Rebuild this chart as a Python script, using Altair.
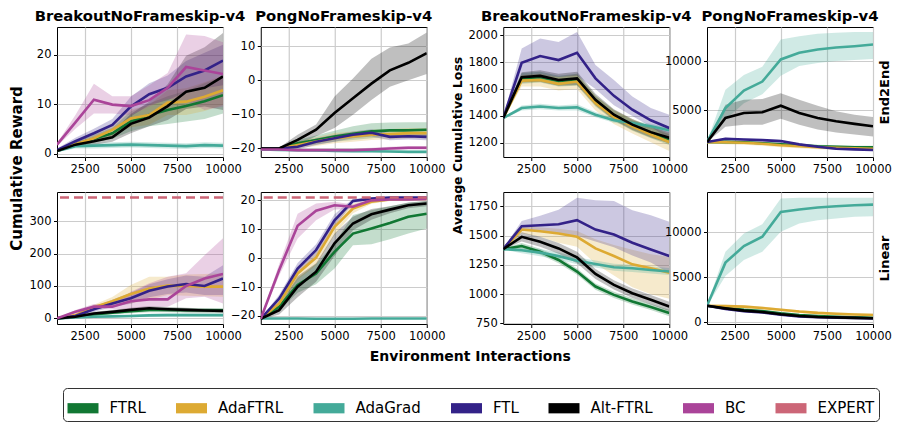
import altair as alt
import pandas as pd

X = [1000, 2000, 3000, 4000, 5000, 6000, 7000, 8000, 9000, 10000]
METHODS = ["FTRL", "AdaFTRL", "AdaGrad", "FTL", "Alt-FTRL", "BC", "EXPERT"]
COLORS = ["#117733", "#DDAA33", "#44AA99", "#332288", "#000000", "#AA4499", "#CC6677"]
GAMES = ["BreakoutNoFrameskip-v4", "PongNoFrameskip-v4"]
ROW_LABELS = ["End2End", "Linear"]
X_TICKS = [2500, 5000, 7500, 10000]
EXPERT_BREAKOUT = 373
EXPERT_PONG = 21

# ---- Breakout, cumulative reward, End2End
BR_E2E_MEAN = {
    "FTRL": [0.5, 1.8, 3.0, 4.1, 6.5, 7.8, 8.8, 9.6, 10.6, 11.8],
    "AdaFTRL": [0.5, 1.9, 3.1, 4.8, 7.1, 7.8, 10.3, 10.5, 11.5, 12.8],
    "AdaGrad": [0.5, 1.5, 1.6, 1.7, 1.8, 1.7, 1.6, 1.5, 1.7, 1.6],
    "FTL": [0.7, 2.5, 4.1, 5.8, 9.5, 12.0, 13.3, 15.6, 16.8, 18.8],
    "Alt-FTRL": [0.5, 1.8, 2.5, 3.3, 6.0, 7.3, 9.6, 12.5, 13.3, 15.6],
    "BC": [1.8, 6.3, 10.9, 9.9, 9.6, 10.8, 13.3, 17.5, 16.8, 16.1],
}
BR_E2E_LO = {
    "FTRL": [0.3, 1.3, 2.2, 3.0, 4.5, 5.5, 6.0, 6.5, 7.0, 8.1],
    "AdaFTRL": [0.3, 1.4, 2.3, 3.6, 5.3, 5.8, 7.8, 7.8, 8.6, 9.8],
    "AdaGrad": [0.3, 1.0, 1.0, 1.1, 1.2, 1.1, 1.0, 0.9, 1.1, 1.0],
    "FTL": [0.4, 1.8, 3.2, 4.6, 7.5, 9.8, 10.8, 12.5, 13.2, 13.8],
    "Alt-FTRL": [0.3, 1.3, 1.8, 2.4, 4.1, 5.5, 6.8, 9.0, 9.5, 8.8],
    "BC": [1.5, 5.0, 8.1, 8.1, 7.8, 9.5, 11.1, 10.8, 8.8, 9.5],
}
BR_E2E_HI = {
    "FTRL": [0.7, 2.3, 3.8, 5.2, 8.5, 10.1, 11.6, 12.7, 14.2, 15.5],
    "AdaFTRL": [0.7, 2.4, 3.9, 6.0, 8.9, 9.8, 12.8, 13.2, 14.4, 15.8],
    "AdaGrad": [0.7, 2.0, 2.2, 2.3, 2.4, 2.3, 2.2, 2.1, 2.3, 2.2],
    "FTL": [1.0, 3.2, 5.0, 7.0, 11.5, 14.2, 15.8, 18.7, 20.4, 22.0],
    "Alt-FTRL": [0.7, 2.3, 3.2, 4.3, 8.0, 10.5, 14.0, 19.8, 21.5, 24.4],
    "BC": [2.1, 7.8, 14.1, 11.6, 11.6, 13.8, 16.3, 24.1, 23.8, 22.5],
}

# ---- Pong, cumulative reward, End2End
PG_E2E_MEAN = {
    "FTRL": [-20, -20, -18.5, -17.5, -16.5, -15.7, -15.0, -14.7, -14.7, -14.5],
    "AdaFTRL": [-20, -20, -19, -18, -17, -16.5, -16, -15.8, -15.5, -15.5],
    "AdaGrad": [-20.3, -20.4, -20.5, -20.6, -20.7, -20.8, -20.8, -20.9, -21.0, -21.0],
    "FTL": [-20, -20, -19.5, -18, -17, -16, -15.4, -16.6, -16.4, -16.6],
    "Alt-FTRL": [-20, -20, -17.5, -14.5, -9.6, -5.3, -1.0, 2.9, 5.1, 7.9],
    "BC": [-20.3, -20.3, -20.5, -20.5, -20.5, -20.5, -20.3, -20.0, -19.8, -19.8],
}
PG_E2E_LO = {
    "FTRL": [-20.2, -20.3, -19.5, -18.8, -18.0, -17.5, -17.0, -16.5, -16.5, -16.5],
    "AdaFTRL": [-20.2, -20.4, -20.0, -19.3, -18.5, -18.0, -17.5, -17.3, -17.0, -17.0],
    "AdaGrad": [-20.6, -20.7, -20.8, -20.9, -21.0, -21.1, -21.1, -21.2, -21.3, -21.3],
    "FTL": [-20.2, -20.3, -20.3, -19.0, -18.0, -17.0, -16.5, -17.6, -17.4, -17.6],
    "Alt-FTRL": [-20.2, -20.3, -19.0, -16.4, -14.0, -10.1, -5.8, -1.9, 0.0, 1.8],
    "BC": [-20.6, -20.7, -20.9, -21.0, -21.0, -21.0, -20.8, -20.5, -20.3, -20.3],
}
PG_E2E_HI = {
    "FTRL": [-19.8, -19.7, -17.5, -16.2, -14.8, -13.5, -12.6, -12.4, -12.3, -12.3],
    "AdaFTRL": [-19.8, -19.6, -18.0, -16.7, -15.5, -15.0, -14.5, -14.3, -14.0, -14.0],
    "AdaGrad": [-20.0, -20.1, -20.2, -20.3, -20.4, -20.5, -20.5, -20.6, -20.7, -20.7],
    "FTL": [-19.8, -19.7, -18.7, -17.0, -16.0, -15.0, -14.4, -15.6, -15.4, -15.6],
    "Alt-FTRL": [-19.8, -19.7, -16.0, -13.0, -4.8, 0.5, 6.3, 9.6, 10.8, 14.0],
    "BC": [-20.0, -19.9, -20.1, -20.0, -20.0, -20.0, -19.8, -19.5, -19.3, -19.3],
}

# ---- Breakout, cumulative reward, Linear
BR_LIN_MEAN = {
    "FTRL": [0, 5, 12, 17, 22, 26, 26, 25, 25, 25],
    "AdaFTRL": [0, 10, 34, 53, 75, 92, 101, 100, 98, 98],
    "AdaGrad": [0, 3, 5, 6, 7, 9, 10, 10, 10, 10],
    "FTL": [0, 7, 28, 46, 62, 85, 98, 106, 100, 123],
    "Alt-FTRL": [0, 5, 15, 20, 26, 31, 28, 26, 24, 23],
    "BC": [0, 20.5, 36, 36, 53, 58.6, 58.6, 100, 123, 137],
}
BR_LIN_LO = {
    "FTRL": [0, 3, 8, 12, 16, 19, 19, 18, 18, 18],
    "AdaFTRL": [0, 6, 26, 40, 46, 57, 72, 70, 68, 67],
    "AdaGrad": [0, 1, 2, 3, 3, 4, 5, 5, 5, 5],
    "FTL": [0, 4, 20, 35, 45, 65, 75, 80, 72, 72],
    "Alt-FTRL": [0, 3, 10, 14, 19, 24, 21, 19, 18, 17],
    "BC": [0, 15, 28, 28, 26, 36, 36, 62, 67, 46],
}
BR_LIN_HI = {
    "FTRL": [0, 7, 16, 22, 28, 33, 33, 32, 32, 32],
    "AdaFTRL": [0, 14, 42, 66, 103, 128, 128, 135, 137, 139],
    "AdaGrad": [0, 5, 8, 9, 11, 14, 15, 15, 15, 15],
    "FTL": [0, 10, 36, 57, 79, 105, 121, 132, 128, 164],
    "Alt-FTRL": [0, 7, 20, 26, 33, 38, 35, 33, 30, 29],
    "BC": [0, 26, 44, 44, 82, 108, 128, 139, 195, 247],
}

# ---- Pong, cumulative reward, Linear
PG_LIN_MEAN = {
    "FTRL": [-21, -16.8, -9.3, -5.3, 2.2, 8.5, 10.3, 12.2, 14.3, 15.4],
    "AdaFTRL": [-21, -15.7, -5.3, 0.2, 10.8, 17.2, 19.5, 20.3, 20.5, 20.5],
    "AdaGrad": [-20.9, -20.9, -20.9, -21.0, -21.0, -21.0, -20.9, -20.9, -20.9, -20.9],
    "FTL": [-21, -14, -3.6, 2.8, 13.1, 19.8, 20.6, 21, 21, 21],
    "Alt-FTRL": [-21, -18, -9.9, -4.7, 5.1, 12, 15.2, 16.8, 18.3, 18.9],
    "BC": [-21, -4.1, 11.2, 16.4, 18.3, 17.8, 20, 20.3, 20.3, 20.5],
}
PG_LIN_LO = {
    "FTRL": [-21.2, -18, -12, -9, -3.6, 4.5, 4.8, 6.5, 8.5, 10.3],
    "AdaFTRL": [-21.2, -17, -7.5, -2.5, 8, 15.5, 18.8, 19.8, 20.1, 20.1],
    "AdaGrad": [-21.1, -21.1, -21.1, -21.2, -21.2, -21.2, -21.1, -21.1, -21.1, -21.1],
    "FTL": [-21.2, -15.3, -5.5, 0.8, 11, 19, 20.3, 20.8, 20.8, 20.8],
    "Alt-FTRL": [-21.2, -19.5, -13.5, -8.2, 0.7, 9.7, 13.3, 15.5, 17.3, 18],
    "BC": [-21.2, -6, 6.8, 13.1, 16.8, 17, 19.5, 20, 20, 20.2],
}
PG_LIN_HI = {
    "FTRL": [-20.8, -15.5, -7, -2, 5.1, 14.9, 16.6, 18, 19.2, 19.8],
    "AdaFTRL": [-20.8, -14.4, -3, 2.9, 13.5, 18.9, 20.2, 20.8, 20.9, 20.9],
    "AdaGrad": [-20.7, -20.7, -20.7, -20.8, -20.8, -20.8, -20.7, -20.7, -20.7, -20.7],
    "FTL": [-20.8, -12.7, -1.7, 4.8, 15.2, 20.6, 20.9, 21.1, 21.1, 21.1],
    "Alt-FTRL": [-20.8, -16.5, -6.3, -1.8, 8.5, 14.3, 17, 18, 19.3, 19.8],
    "BC": [-20.8, -2, 15.4, 18.9, 19.5, 18.6, 20.5, 20.6, 20.6, 20.8],
}

# ---- Breakout, average cumulative loss, End2End
BL_E2E_MEAN = {
    "FTRL": [1385, 1680, 1690, 1660, 1670, 1510, 1405, 1330, 1275, 1225],
    "AdaFTRL": [1385, 1663, 1668, 1639, 1656, 1496, 1393, 1324, 1262, 1206],
    "AdaGrad": [1385, 1459, 1471, 1459, 1464, 1410, 1368, 1348, 1324, 1294],
    "FTL": [1385, 1796, 1846, 1816, 1870, 1680, 1550, 1447, 1368, 1311],
    "Alt-FTRL": [1385, 1688, 1698, 1668, 1680, 1521, 1410, 1336, 1280, 1238],
}
BL_E2E_LO = {
    "FTRL": [1375, 1640, 1650, 1620, 1625, 1470, 1365, 1290, 1235, 1185],
    "AdaFTRL": [1375, 1620, 1620, 1590, 1600, 1440, 1340, 1270, 1205, 1140],
    "AdaGrad": [1380, 1440, 1450, 1440, 1440, 1390, 1350, 1330, 1305, 1275],
    "FTL": [1380, 1690, 1700, 1690, 1700, 1600, 1480, 1400, 1320, 1230],
    "Alt-FTRL": [1375, 1650, 1655, 1625, 1630, 1480, 1370, 1295, 1240, 1195],
}
BL_E2E_HI = {
    "FTRL": [1395, 1720, 1730, 1700, 1715, 1550, 1445, 1370, 1315, 1265],
    "AdaFTRL": [1395, 1705, 1715, 1690, 1710, 1550, 1445, 1378, 1320, 1270],
    "AdaGrad": [1390, 1478, 1492, 1478, 1488, 1430, 1386, 1366, 1343, 1313],
    "FTL": [1390, 1902, 1976, 1951, 2025, 1779, 1668, 1545, 1459, 1410],
    "Alt-FTRL": [1395, 1725, 1740, 1715, 1730, 1565, 1450, 1378, 1320, 1280],
}

# ---- Breakout, average cumulative loss, Linear
BL_LIN_MEAN = {
    "FTRL": [1385, 1411, 1363, 1292, 1193, 1065, 994, 938, 890, 839],
    "AdaFTRL": [1385, 1552, 1538, 1518, 1490, 1391, 1326, 1255, 1221, 1184],
    "AdaGrad": [1385, 1375, 1355, 1325, 1286, 1258, 1230, 1221, 1207, 1193],
    "FTL": [1385, 1581, 1589, 1598, 1632, 1552, 1510, 1439, 1382, 1326],
    "Alt-FTRL": [1385, 1490, 1448, 1391, 1314, 1173, 1079, 1008, 952, 895],
}
BL_LIN_LO = {
    "FTRL": [1380, 1385, 1338, 1265, 1165, 1038, 968, 912, 864, 812],
    "AdaFTRL": [1380, 1520, 1490, 1440, 1405, 1260, 1160, 1060, 1000, 960],
    "AdaGrad": [1380, 1350, 1325, 1295, 1255, 1228, 1200, 1190, 1177, 1163],
    "FTL": [1380, 1540, 1545, 1520, 1500, 1450, 1400, 1330, 1270, 1180],
    "Alt-FTRL": [1380, 1450, 1405, 1345, 1265, 1130, 1040, 968, 912, 855],
}
BL_LIN_HI = {
    "FTRL": [1390, 1437, 1388, 1318, 1220, 1092, 1020, 964, 916, 866],
    "AdaFTRL": [1390, 1580, 1570, 1560, 1540, 1470, 1420, 1380, 1340, 1320],
    "AdaGrad": [1390, 1400, 1385, 1355, 1316, 1288, 1260, 1251, 1237, 1223],
    "FTL": [1390, 1626, 1670, 1722, 1824, 1802, 1796, 1717, 1674, 1618],
    "Alt-FTRL": [1390, 1530, 1490, 1437, 1363, 1216, 1118, 1048, 992, 935],
}

# ---- Pong, average cumulative loss, End2End
PL_E2E_MEAN = {
    "FTRL": [1723, 1750, 1700, 1600, 1500, 1400, 1300, 1250, 1200, 1200],
    "AdaFTRL": [1723, 1700, 1650, 1550, 1400, 1300, 1200, 1150, 1100, 1050],
    "AdaGrad": [1723, 5200, 6993, 7905, 10168, 10844, 11182, 11385, 11520, 11689],
    "FTL": [1723, 2060, 1993, 1925, 1825, 1487, 1250, 1048, 980, 913],
    "Alt-FTRL": [1723, 4190, 4696, 4764, 5440, 4696, 4190, 3850, 3581, 3345],
}
PL_E2E_LO = {
    "FTRL": [1650, 1600, 1550, 1450, 1350, 1250, 1150, 1100, 1050, 1050],
    "AdaFTRL": [1650, 1500, 1450, 1350, 1200, 1100, 1000, 950, 900, 850],
    "AdaGrad": [1700, 4000, 5700, 6600, 8500, 9500, 9800, 10000, 10100, 10200],
    "FTL": [1650, 1960, 1890, 1825, 1725, 1390, 1150, 950, 880, 815],
    "Alt-FTRL": [1700, 3300, 3500, 3500, 4100, 3500, 3000, 2700, 2500, 2300],
}
PL_E2E_HI = {
    "FTRL": [1800, 1900, 1850, 1750, 1650, 1550, 1450, 1400, 1350, 1350],
    "AdaFTRL": [1800, 1900, 1850, 1750, 1600, 1500, 1400, 1350, 1300, 1250],
    "AdaGrad": [1750, 7060, 8580, 9425, 12195, 12533, 12800, 12900, 12970, 12970],
    "FTL": [1800, 2160, 2090, 2025, 1925, 1585, 1350, 1150, 1080, 1010],
    "Alt-FTRL": [1750, 5540, 6047, 6115, 6723, 6047, 5440, 4865, 4527, 4290],
}

# ---- Pong, average cumulative loss, Linear
PL_LIN_MEAN = {
    "FTRL": [1845, 1600, 1400, 1250, 1000, 800, 700, 620, 560, 500],
    "AdaFTRL": [1845, 1800, 1750, 1600, 1400, 1200, 1050, 950, 880, 820],
    "AdaGrad": [1845, 6642, 8487, 9520, 12288, 12546, 12767, 12915, 13026, 13100],
    "FTL": [1845, 1500, 1250, 1100, 850, 650, 560, 520, 480, 420],
    "Alt-FTRL": [1845, 1550, 1300, 1150, 900, 700, 600, 550, 500, 450],
}
PL_LIN_LO = {
    "FTRL": [1800, 1500, 1300, 1150, 900, 700, 600, 520, 460, 400],
    "AdaFTRL": [1800, 1650, 1600, 1450, 1250, 1050, 900, 800, 730, 670],
    "AdaGrad": [1800, 5166, 6937, 7860, 10073, 11000, 11365, 11550, 11734, 11808],
    "FTL": [1800, 1420, 1170, 1020, 770, 570, 480, 440, 400, 340],
    "Alt-FTRL": [1800, 1450, 1200, 1050, 800, 600, 500, 450, 400, 350],
}
PL_LIN_HI = {
    "FTRL": [1900, 1700, 1500, 1350, 1100, 900, 800, 720, 660, 600],
    "AdaFTRL": [1900, 1950, 1900, 1750, 1550, 1350, 1200, 1100, 1030, 970],
    "AdaGrad": [1900, 7860, 9890, 10922, 13764, 13874, 13874, 13874, 13874, 13874],
    "FTL": [1900, 1580, 1330, 1180, 930, 730, 640, 600, 560, 500],
    "Alt-FTRL": [1900, 1650, 1400, 1250, 1000, 800, 700, 650, 600, 550],
}

FONT = "DejaVu Sans"
W = 166
H_TOP, H_BOTTOM = 130, 132
COLOR_SCALE = alt.Scale(domain=METHODS, range=COLORS)
LEGEND = alt.Legend(title=None, orient="none", legendX=6, legendY=361,
                    direction="horizontal", columns=7, columnPadding=29.5,
                    labelOffset=11, labelFontSize=15, labelFont=FONT,
                    labelColor="black", symbolType="M-1,-0.33H1V0.33H-1Z", symbolSize=961,
                    symbolStrokeWidth=0, strokeColor="#333333", padding=4.5,
                    cornerRadius=4, fillColor="white", symbolOpacity=1)


def frame(mean, lo, hi):
    rows = []
    for m in METHODS:
        if m not in mean:
            continue
        for i, x in enumerate(X):
            rows.append({"x": x, "method": m, "mean": mean[m][i],
                         "lo": lo[m][i], "hi": hi[m][i]})
    return pd.DataFrame(rows)


def panel(mean, lo, hi, ydomain, yticks, h, title=None, ytitle=None, ytitle_opts=None,
          row_label=None, expert=None, xtitle=None):
    df = frame(mean, lo, hi)
    xscale = alt.Scale(domain=[1000, 10000], nice=False, zero=False)
    yscale = alt.Scale(domain=ydomain, nice=False, zero=False)
    xaxis_kw = dict(values=X_TICKS, format="d", grid=True, labelFlush=False,
                    labelOverlap=False)
    if xtitle:
        xaxis_kw.update(title=xtitle, titleX=209, titleY=25, titleBaseline="top",
                        titleAlign="center", titleAnchor="start", titleFontSize=14)
    else:
        xaxis_kw.update(title=None)
    yaxis_kw = dict(values=yticks, grid=True, orient="left", format="d")
    if ytitle:
        yaxis_kw.update(title=ytitle, **ytitle_opts)
    else:
        yaxis_kw.update(title=None)
    xaxis = alt.Axis(**xaxis_kw)
    yaxis = alt.Axis(**yaxis_kw)

    band = alt.Chart(df).mark_area(opacity=0.25, clip=True).encode(
        x=alt.X("x:Q", scale=xscale, axis=xaxis),
        y=alt.Y("lo:Q", scale=yscale, axis=yaxis),
        y2="hi:Q",
        color=alt.Color("method:N", scale=COLOR_SCALE, legend=LEGEND),
    )

    if row_label:
        line_axis = alt.Axis(orient="right", title=row_label, labels=False, ticks=False,
                             domain=False, grid=False, titleAngle=270, titleX=11,
                             titleY=h / 2, titleBaseline="middle", titleAlign="center",
                             titleFontSize=13)
    else:
        line_axis = yaxis

    line = alt.Chart(df).mark_line(strokeWidth=2.6, clip=True).encode(
        x=alt.X("x:Q", scale=xscale, axis=xaxis),
        y=alt.Y("mean:Q", scale=yscale, axis=line_axis),
        color=alt.Color("method:N", scale=COLOR_SCALE, legend=LEGEND),
    )
    layers = [band, line]
    if expert is not None:
        edf = pd.DataFrame({"v": [expert], "method": ["EXPERT"]})
        rule = alt.Chart(edf).mark_rule(strokeDash=[9, 5], strokeWidth=2.6).encode(
            y=alt.Y("v:Q", scale=yscale, axis=yaxis),
            color=alt.Color("method:N", scale=COLOR_SCALE, legend=LEGEND),
        )
        layers.append(rule)
    ch = alt.layer(*layers)
    if row_label:
        ch = ch.resolve_scale(y="independent")
    props = dict(width=W, height=h)
    if title:
        props["title"] = alt.Title(title, fontSize=14.8, fontWeight="bold", font=FONT,
                                   offset=3, anchor="middle", color="black")
    return ch.properties(**props)


def spacer(h):
    return alt.Chart(pd.DataFrame({"s": [0]})).mark_point(opacity=0).encode(
        x=alt.value(0), y=alt.value(0)
    ).properties(width=1, height=h, view=alt.ViewBackground(strokeOpacity=0))


A1 = panel(BR_E2E_MEAN, BR_E2E_LO, BR_E2E_HI, [-0.7, 25.6], [0, 10, 20], H_TOP,
           title=GAMES[0], ytitle="Cumulative Reward",
           ytitle_opts=dict(titleX=-41, titleY=141, titleAngle=270, titleBaseline="middle",
                            titleAlign="center", titleFontSize=15))
B1 = panel(PG_E2E_MEAN, PG_E2E_LO, PG_E2E_HI, [-22.5, 15.6], [-20, -10, 0, 10], H_TOP,
           title=GAMES[1])
A2 = panel(BR_LIN_MEAN, BR_LIN_LO, BR_LIN_HI, [-17.5, 390], [0, 100, 200, 300], H_BOTTOM,
           expert=EXPERT_BREAKOUT)
B2 = panel(PG_LIN_MEAN, PG_LIN_LO, PG_LIN_HI, [-22.8, 22.9], [-20, -10, 0, 10, 20], H_BOTTOM,
           expert=EXPERT_PONG, xtitle="Environment Interactions")
C1 = panel(BL_E2E_MEAN, BL_E2E_LO, BL_E2E_HI, [1095, 2062], [1200, 1400, 1600, 1800, 2000],
           H_TOP, title=GAMES[0], ytitle="Average Cumulative Loss",
           ytitle_opts=dict(titleX=-46, titleY=118, titleAngle=270, titleBaseline="middle",
                            titleAlign="center", titleFontSize=12.5))
D1 = panel(PL_E2E_MEAN, PL_E2E_LO, PL_E2E_HI, [200, 13480], [5000, 10000], H_TOP,
           title=GAMES[1], row_label=ROW_LABELS[0])
C2 = panel(BL_LIN_MEAN, BL_LIN_LO, BL_LIN_HI, [745, 1873], [750, 1000, 1250, 1500, 1750],
           H_BOTTOM)
D2 = panel(PL_LIN_MEAN, PL_LIN_LO, PL_LIN_HI, [-185, 14500], [0, 5000, 10000], H_BOTTOM,
           row_label=ROW_LABELS[1])

chart = alt.concat(
    A1, B1, spacer(H_TOP), C1, D1,
    A2, B2, spacer(H_BOTTOM), C2, D2,
    columns=5, spacing=alt.RowColnumber(row=35, column=37.75), bounds="flush",
    padding=alt.Padding(left=0, top=0, right=0, bottom=0),
).configure(
    font=FONT, background="white"
).configure_view(
    stroke="black", strokeWidth=1
).configure_axis(
    labelFont=FONT, labelFontSize=11.5, labelColor="black", tickColor="black",
    tickSize=3.5, tickWidth=1, labelPadding=2.5, gridColor="#cccccc", gridWidth=1.2,
    domain=False, titleFont=FONT, titleFontWeight="bold", titleColor="black",
)

chart.save("out.html", embed_options={"renderer": "svg", "actions": False})
